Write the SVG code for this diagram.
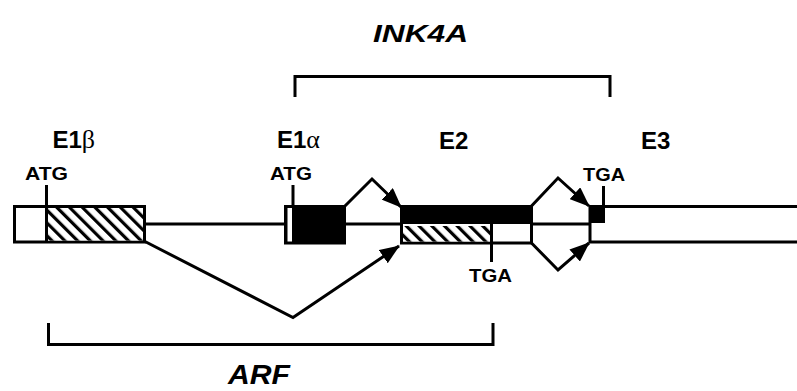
<svg xmlns="http://www.w3.org/2000/svg" width="797" height="391" viewBox="0 0 797 391">
<style>
.ln{fill:none;stroke:#000;stroke-width:3}
.lbl{font-family:"Liberation Sans",Arial,sans-serif;font-weight:bold;fill:#000}
.ex{font-size:24px}
.sm{font-size:18px}
.gr{font-family:"Liberation Serif","DejaVu Serif",serif;font-weight:normal}
.gene{font-style:italic}
</style>
<defs>
<pattern id="hatch" patternUnits="userSpaceOnUse" width="9" height="9" patternTransform="rotate(-45)">
<rect width="9" height="9" fill="#fff"/>
<rect x="0" y="0" width="3.2" height="9" fill="#000"/>
</pattern>
<marker id="ah" markerWidth="20" markerHeight="16" refX="19" refY="8" orient="auto" markerUnits="userSpaceOnUse">
<path d="M0,0 L20,8 L0,16 Z" fill="#000"/>
</marker>
</defs>
<rect width="797" height="391" fill="#fff"/>
<g id="intron">
<line class="ln" x1="144" y1="224" x2="590" y2="224"/>
</g>
<g id="E1b">
<rect x="14.5" y="206.5" width="130" height="35.5" fill="#fff" stroke="#000" stroke-width="3"/>
<rect x="47" y="208" width="96" height="32.5" fill="url(#hatch)"/>
<line class="ln" x1="46.5" y1="185" x2="46.5" y2="242"/>
<text class="lbl ex" x="52.5" y="148">E1<tspan class="gr" font-size="26">β</tspan></text>
<text class="lbl sm" x="25" y="180" textLength="43" lengthAdjust="spacingAndGlyphs">ATG</text>
</g>
<g id="E1a">
<rect x="285.5" y="206.5" width="59" height="36.5" fill="#000" stroke="#000" stroke-width="3"/>
<rect x="287.5" y="208" width="4.5" height="33.5" fill="#fff"/>
<line class="ln" x1="293" y1="185" x2="293" y2="206"/>
<text class="lbl ex" x="277" y="148">E1<tspan class="gr" font-size="26">α</tspan></text>
<text class="lbl sm" x="270" y="180" textLength="42" lengthAdjust="spacingAndGlyphs">ATG</text>
</g>
<g id="E2">
<rect x="401.5" y="206.5" width="130" height="36.5" fill="#fff" stroke="#000" stroke-width="3"/>
<rect x="401.5" y="206.5" width="130" height="17.5" fill="#000"/>
<rect x="403" y="226" width="88.5" height="15.5" fill="url(#hatch)"/>
<line class="ln" x1="491.5" y1="224" x2="491.5" y2="262"/>
<text class="lbl ex" x="439" y="149">E2</text>
<text class="lbl sm" x="469" y="281.5" textLength="43" lengthAdjust="spacingAndGlyphs">TGA</text>
</g>
<g id="E3">
<path class="ln" d="M797,206.5 H590 V242 H797"/>
<rect x="590" y="206.5" width="15" height="16.5" fill="#000"/>
<line class="ln" x1="603.5" y1="186" x2="603.5" y2="206"/>
<text class="lbl ex" x="641" y="149">E3</text>
<text class="lbl sm" x="583" y="181" textLength="42" lengthAdjust="spacingAndGlyphs">TGA</text>
</g>
<g id="INK4A">
<path class="ln" d="M295,97 V76.5 H610 V97"/>
<text class="lbl gene" x="373" y="42" font-size="23" textLength="95" lengthAdjust="spacingAndGlyphs">INK4A</text>
</g>
<g id="ARF">
<path class="ln" d="M48.5,323 V344.5 H493 V323"/>
<text class="lbl gene" x="228" y="384" font-size="28" textLength="62" lengthAdjust="spacingAndGlyphs">ARF</text>
</g>
<g id="connectors">
<polyline class="ln" points="345,206 372,179 401,207" marker-end="url(#ah)"/>
<polyline class="ln" points="531.5,206 558,178 589,206" marker-end="url(#ah)"/>
<polyline class="ln" points="531.5,243 558,270 589,243" marker-end="url(#ah)"/>
<polyline class="ln" points="144,241 293,317.5 399,246" marker-end="url(#ah)"/>
</g>
</svg>
